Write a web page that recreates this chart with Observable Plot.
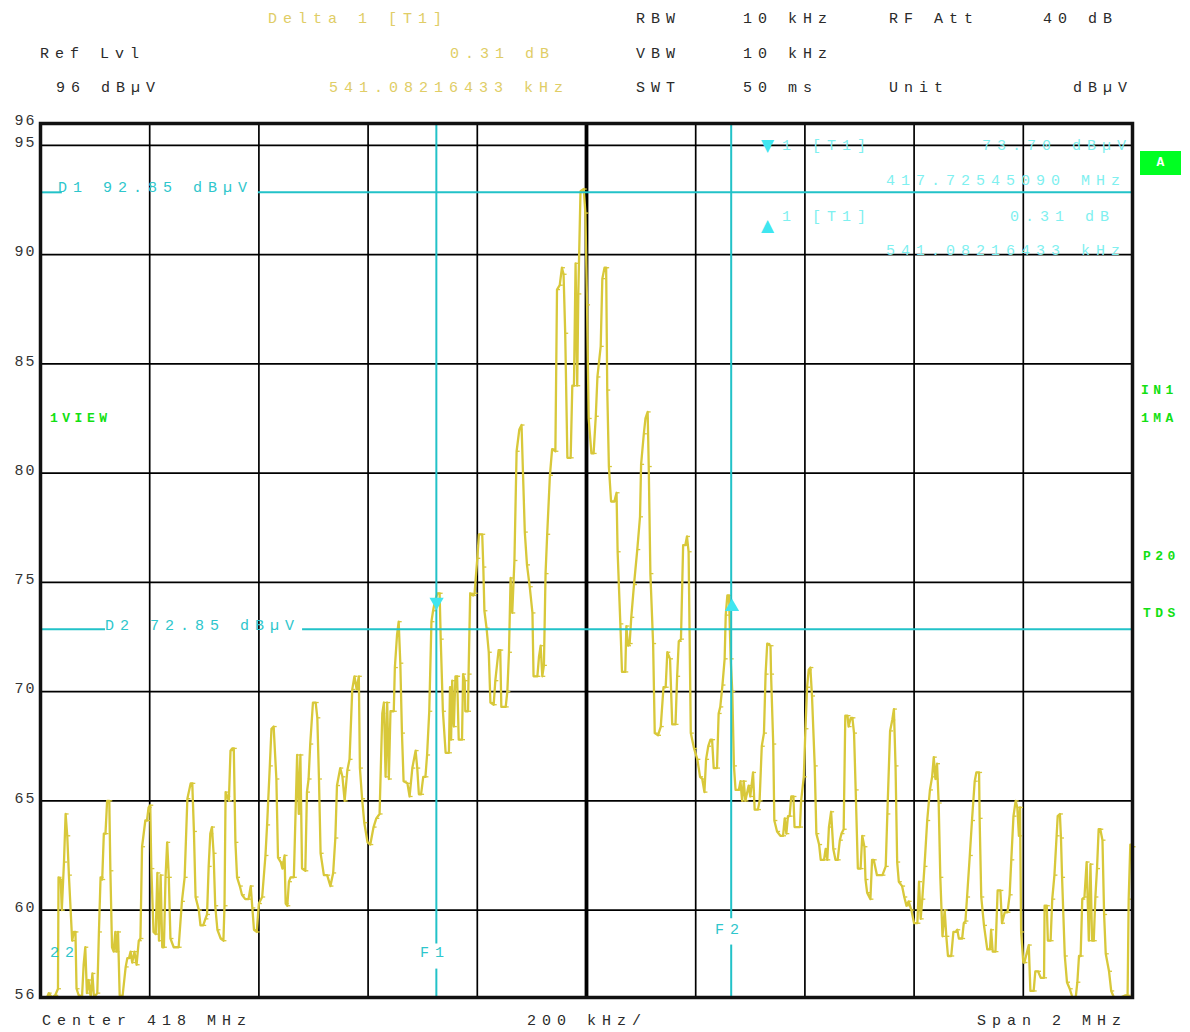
<!DOCTYPE html>
<html><head><meta charset="utf-8">
<script src="https://cdn.jsdelivr.net/npm/d3@7"></script>
<script src="https://cdn.jsdelivr.net/npm/@observablehq/plot@0.6"></script>
<style>
body{margin:0;background:#fff;}
#wrap{position:relative;width:1190px;height:1032px;overflow:hidden;background:#fff;}
#wrap svg{position:absolute;left:0;top:0;}
.t{position:absolute;font-family:"Liberation Mono","DejaVu Sans Mono",monospace;font-size:15px;letter-spacing:6px;white-space:pre;line-height:16px;height:16px;}
.k{color:#2a2a2a;}
.y{color:#e0cd66;}
.c{color:#7ff0f0;}
.cd{color:#2ec6cc;}
.g{color:#12e012;font-weight:bold;font-size:13px;letter-spacing:4.5px;}
.tri{color:#3fe6f0;font-family:"DejaVu Sans",sans-serif;font-size:17px;letter-spacing:0;}
#boxA{position:absolute;left:1140px;top:151px;width:41px;height:24px;background:#00ff22;color:#fff;font:bold 13px "Liberation Mono",monospace;text-align:center;line-height:24px;}
</style></head>
<body><div id="wrap"></div>
<script>
// Trace: frequency offset from center 418 MHz (kHz) and level (dBµV)
const freqKHz = [-1000,-988,-985,-979,-973,-968,-967,-963,-961,-957,-954,-951,-948,-942,-939,-936,-934,-930,-924,-921,-918,-915,-912,-908,-905,-902,-896,-893,-890,-887,-884,-881,-878,-874,-872,-869,-866,-863,-861,-858,-855,-850,-844,-841,-838,-835,-832,-828,-824,-820,-817,-814,-808,-805,-802,-799,-797,-793,-789,-786,-783,-780,-777,-774,-771,-768,-765,-762,-756,-750,-747,-741,-736,-731,-725,-722,-719,-716,-710,-707,-702,-698,-695,-692,-689,-686,-683,-680,-676,-670,-665,-663,-661,-658,-655,-652,-649,-646,-643,-640,-635,-631,-625,-619,-615,-612,-609,-604,-600,-594,-588,-585,-580,-577,-573,-568,-565,-560,-557,-553,-551,-548,-545,-542,-536,-530,-527,-524,-521,-515,-512,-509,-506,-501,-496,-493,-490,-487,-481,-475,-469,-464,-460,-457,-451,-447,-443,-438,-434,-429,-425,-421,-417,-415,-411,-407,-401,-396,-390,-385,-379,-374,-371,-368,-365,-362,-359,-353,-351,-347,-344,-341,-338,-335,-328,-324,-319,-313,-310,-307,-303,-299,-295,-292,-288,-284,-281,-277,-273,-269,-267,-263,-258,-252,-250,-248,-246,-243,-240,-237,-234,-228,-226,-223,-222,-217,-216,-213,-208,-205,-200,-197,-191,-189,-187,-183,-179,-176,-170,-167,-161,-158,-156,-148,-145,-142,-139,-136,-132,-128,-123,-119,-113,-109,-104,-99,-97,-90,-87,-84,-81,-78,-75,-72,-67,-63,-57,-54,-49,-45,-42,-39,-35,-29,-26,-23,-20,-17,-15,-11,-5,-2,1,4,9,13,17,20,26,29,33,36,38,41,45,51,55,57,62,65,71,73,76,79,82,87,93,98,100,105,108,112,114,117,122,125,131,136,141,145,148,153,157,163,166,169,173,177,181,184,187,191,197,203,208,212,216,219,223,227,230,233,239,242,245,249,253,255,258,261,264,267,270,273,279,282,285,288,291,297,300,305,308,314,317,321,325,328,331,337,338,342,344,349,355,360,363,366,369,372,375,379,381,391,393,398,401,404,407,410,413,418,421,426,429,435,438,441,444,448,452,456,460,464,467,471,474,478,480,484,487,490,493,497,502,505,509,511,514,520,523,526,532,542,548,551,556,560,563,566,569,572,578,582,586,590,595,600,606,609,612,615,619,624,629,633,636,639,642,645,648,652,656,659,662,668,672,676,679,682,688,691,694,697,702,706,711,714,719,720,723,728,734,739,741,744,749,753,758,761,766,771,775,778,782,786,789,792,794,796,800,802,806,810,813,819,822,827,832,838,839,843,845,850,853,857,861,863,867,869,871,876,880,885,890,896,899,902,905,908,912,916,920,923,926,929,932,935,938,941,945,948,951,957,961,966,978,987,991,993,996,1000];
const levelDb = [56.0,56.0,56.2,56.0,56.1,56.4,61.5,61.4,60.0,62.2,64.4,63.4,61.6,58.6,59.0,59.0,56.4,56.1,56.0,57.5,58.3,56.2,56.8,56.0,57.1,56.0,56.2,59.0,61.5,61.4,63.5,63.5,65.0,65.0,61.8,58.3,58.1,59.0,58.1,59.0,56.1,56.0,57.4,57.8,57.8,58.1,57.6,58.1,57.5,58.6,58.7,62.9,64.1,64.1,64.7,64.8,61.9,59.0,58.9,61.7,58.6,61.6,58.3,58.3,61.5,63.1,61.5,58.7,58.3,58.3,58.3,60.4,61.5,65.1,65.8,65.8,63.6,60.6,60.0,59.3,59.3,59.6,59.8,62.0,63.5,63.8,62.6,60.2,59.1,58.7,58.6,60.2,65.4,65.2,65.0,67.3,67.4,67.4,63.1,61.5,61.1,60.7,60.5,60.5,61.1,60.1,59.1,59.0,60.3,60.6,62.5,63.9,66.6,68.3,68.4,66.0,62.4,62.2,61.9,62.5,60.3,60.2,61.3,61.5,61.5,67.1,64.4,67.1,61.9,61.8,65.4,66.0,67.6,69.5,69.5,68.8,66.0,62.6,61.6,61.6,61.1,61.7,63.3,65.7,66.5,66.1,65.0,66.4,66.9,70.1,70.7,70.1,70.7,66.5,65.1,64.0,63.1,63.0,63.8,64.2,64.4,69.0,69.5,66.1,69.5,66.0,69.1,69.1,71.1,72.6,73.2,71.3,68.1,65.9,65.8,65.2,66.5,67.3,66.5,65.3,65.3,66.1,66.1,67.1,69.1,73.2,73.7,74.2,74.5,74.5,72.4,69.1,67.2,67.2,70.2,67.8,70.5,68.4,70.7,70.7,67.8,67.8,70.8,70.5,69.1,69.1,70.8,74.5,74.4,74.5,76.1,77.2,77.2,75.7,73.7,72.9,71.8,69.5,69.4,70.5,71.9,71.9,69.3,69.3,70.0,71.8,75.2,73.6,76.0,81.0,82.0,82.2,77.3,75.8,74.8,73.6,70.7,70.7,71.6,72.1,70.7,71.2,75.4,77.2,79.9,81.1,81.0,88.4,88.6,89.4,89.1,86.4,80.7,80.7,84.0,84.0,89.6,84.0,88.2,92.9,93.0,91.9,87.7,82.5,80.9,80.9,82.6,84.4,85.8,88.9,89.4,89.4,83.8,80.3,78.7,78.7,79.1,76.4,73.1,70.9,70.9,73.0,72.1,72.2,73.4,74.9,76.5,78.0,80.4,81.8,82.5,82.8,80.3,75.4,72.2,68.1,68.0,68.4,70.2,70.2,71.8,71.5,68.5,68.5,70.7,72.3,72.4,76.7,76.7,77.1,76.4,68.1,67.4,66.9,66.1,66.0,65.4,66.9,67.5,67.8,67.8,66.5,66.5,69.0,69.3,70.3,71.5,73.5,74.4,74.4,71.5,70.0,66.6,65.5,65.5,65.9,65.0,65.9,65.0,65.7,65.2,66.3,64.6,64.6,65.0,67.5,68.1,70.8,72.2,72.1,70.8,67.6,64.1,63.6,63.4,63.4,64.2,63.5,64.3,64.3,65.2,65.2,63.8,63.8,65.0,66.1,68.3,70.2,71.0,71.1,69.8,66.6,63.5,63.0,62.3,62.3,62.8,62.3,63.8,64.5,62.8,62.3,62.3,63.2,63.5,63.7,68.9,68.9,68.4,68.8,68.8,68.1,65.5,61.9,61.9,63.4,62.9,61.4,60.8,60.5,62.3,62.3,61.6,61.6,62.0,64.4,68.2,68.7,69.2,66.6,62.2,61.3,61.1,60.6,60.2,60.4,60.0,59.4,59.4,61.3,59.6,60.5,62.0,64.1,65.5,66.1,67.0,66.0,66.7,64.9,61.5,58.8,60.0,58.8,57.9,57.9,59.0,59.0,59.1,58.7,58.7,59.4,59.5,60.6,62.5,64.1,65.9,66.3,66.3,64.2,60.6,59.3,58.2,58.2,59.1,58.1,58.1,60.9,60.9,59.4,59.9,59.9,60.7,62.3,64.3,65.0,64.7,63.4,64.7,59.0,57.6,57.6,58.0,58.4,56.3,56.3,57.2,57.2,56.9,56.9,60.2,60.2,58.6,58.6,60.5,61.6,63.4,64.3,64.4,63.3,61.5,57.9,56.7,56.4,56.0,56.0,56.7,57.9,57.9,60.5,60.6,62.2,58.6,62.1,58.6,58.6,60.6,61.9,63.7,63.7,63.2,59.8,58.0,57.2,56.3,56.0,56.0,56.1,56.1,60.5,63.0,62.9];

// Axis ticks
const gridLevels = [60, 65, 70, 75, 80, 85, 90, 95];
const levelLabels = [56, 60, 65, 70, 75, 80, 85, 90, 95, 96];
const freqDivisions = [-800, -600, -400, -200, 200, 400, 600, 800];
const centerFreq = [0];

// Display lines and markers (kHz offset / dBµV)
const dLines = [ // D1, D2 with a gap for the label
  {y: 92.85, x1: -1000, x2: -960}, {y: 92.85, x1: -601, x2: 1000},
  {y: 72.85, x1: -1000, x2: -881}, {y: 72.85, x1: -520, x2: 1000}
];
const fLines = [ // F1, F2 with a gap for the label
  {x: -275, y1: 56, y2: 57.3}, {x: -275, y1: 58.45, y2: 96},
  {x: 265, y1: 56, y2: 58.4}, {x: 265, y1: 59.6, y2: 96}
];
const marker1 = [{x: -274.55, y: 73.70}];
const deltaMarker = [{x: 266.53, y: 74.01}];

const trace = freqKHz.map((f, i) => ({f, v: levelDb[i]}));
const dash = {draw(ctx) { ctx.moveTo(0, 0); ctx.lineTo(3, 0); }};

const plot = Plot.plot({
  width: 1190, height: 1032,
  marginLeft: 40, marginRight: 58, marginTop: 123, marginBottom: 35,
  x: {domain: [-1000, 1000], axis: null},
  y: {domain: [56, 96], axis: null},
  style: {fontFamily: '"Liberation Mono", monospace', fontSize: "15px", letterSpacing: "2px", background: "transparent", overflow: "visible"},
  marks: [
    Plot.gridY(gridLevels, {stroke: "#000", strokeOpacity: 1, strokeWidth: 1.7}),
    Plot.gridX(freqDivisions, {stroke: "#000", strokeOpacity: 1, strokeWidth: 1.7}),
    Plot.gridX(centerFreq, {stroke: "#000", strokeOpacity: 1, strokeWidth: 3.8}),
    Plot.axisY(levelLabels, {tickSize: 0, tickPadding: 4, dy: -3, fill: "#333", fontSize: 15, tickFormat: d => String(d)}),
    Plot.line(trace, {x: "f", y: "v", stroke: "#d8c83a", strokeWidth: 2.3}),
    Plot.dot(trace, {x: "f", y: "v", symbol: dash, r: 2, fill: "none", stroke: "#d8c83a", strokeWidth: 1.3}),
    Plot.ruleY(dLines, {y: "y", x1: "x1", x2: "x2", stroke: "#22c2c8", strokeWidth: 2}),
    Plot.ruleX(fLines, {x: "x", y1: "y1", y2: "y2", stroke: "#22c2c8", strokeWidth: 2}),
    Plot.dot(marker1, {x: "x", y: "y", symbol: "triangle", rotate: 180, dy: -9, r: 5.3, fill: "#40e6f0", stroke: "none"}),
    Plot.dot(deltaMarker, {x: "x", y: "y", symbol: "triangle", dy: 3, r: 5.3, fill: "#40e6f0", stroke: "none"}),
    Plot.frame({stroke: "#111", strokeWidth: 3.5})
  ]
});
const wrap = document.getElementById("wrap");
wrap.appendChild(plot);

// Overlay texts
const texts = [
  ["Delta 1 [T1]", 268, 18, "y"], ["RBW", 636, 18, "k"], ["10 kHz", 743, 18, "k"], ["RF Att", 889, 18, "k"], ["40 dB", 1043, 18, "k"],
  ["Ref Lvl", 40, 53, "k"], ["0.31 dB", 450, 53, "y"], ["VBW", 636, 53, "k"], ["10 kHz", 743, 53, "k"],
  ["96 dBµV", 56, 87, "k"], ["541.08216433 kHz", 329, 87, "y"], ["SWT", 636, 87, "k"], ["50 ms", 743, 87, "k"], ["Unit", 889, 87, "k"], ["dBµV", 1073, 87, "k"],
  ["1 [T1]", 782, 145, "c"], ["73.70 dBµV", 982, 145, "c"], ["417.72545090 MHz", 886, 180, "c"],
  ["1 [T1]", 782, 216, "c"], ["0.31 dB", 1010, 216, "c"], ["541.08216433 kHz", 886, 250, "c"],
  ["D1 92.85 dBµV", 58, 187, "cd"], ["D2 72.85 dBµV", 105, 625, "cd"],
  ["22", 50, 952, "cd"], ["F1", 420, 952, "cd"], ["F2", 715, 929, "cd"],
  ["Center 418 MHz", 42, 1020, "k"], ["200 kHz/", 527, 1020, "k"], ["Span 2 MHz", 977, 1020, "k"],
  ["1VIEW", 50, 417, "g"], ["IN1", 1141, 389, "g"], ["1MA", 1141, 417, "g"], ["P20", 1143, 555, "g"], ["TDS", 1143, 612, "g"],
  ["▼", 761, 143, "tri"], ["▲", 761, 223, "tri"]
];
for (const [s, x, y, cls] of texts) {
  const d = document.createElement("div");
  d.className = "t " + cls;
  d.textContent = s;
  d.style.left = x + "px";
  d.style.top = (y - 6) + "px";
  wrap.appendChild(d);
}
const a = document.createElement("div");
a.id = "boxA"; a.textContent = "A";
wrap.appendChild(a);
</script>
</body></html>
